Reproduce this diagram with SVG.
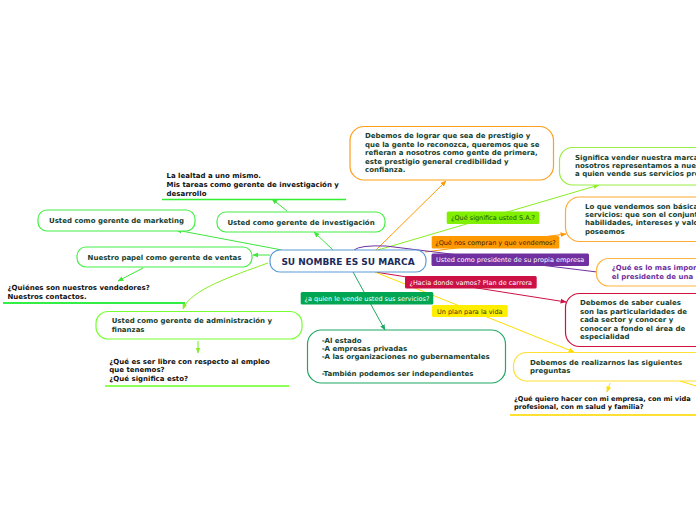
<svg xmlns="http://www.w3.org/2000/svg" width="696" height="520" viewBox="0 0 696 520">
<defs>
<style>
.bx{fill:#fff;stroke-width:1.2}
.t{font-family:"DejaVu Sans",Verdana,sans-serif;font-weight:bold;font-size:7px;fill:#173f30}
.s{font-family:"DejaVu Sans",Verdana,sans-serif;font-weight:bold;font-size:7px;fill:#111}
.lb{font-family:"DejaVu Sans",Verdana,sans-serif;font-size:6.5px}
.c{fill:none;stroke-width:1}
</style>
<marker id="aG" viewBox="0 0 10 10" refX="9" refY="5" markerWidth="6" markerHeight="6" orient="auto"><path d="M0,1L10,5L0,9z" fill="#3ee63e"/></marker>
<marker id="aL" viewBox="0 0 10 10" refX="9" refY="5" markerWidth="6" markerHeight="6" orient="auto"><path d="M0,1L10,5L0,9z" fill="#88ee22"/></marker>
<marker id="aO" viewBox="0 0 10 10" refX="9" refY="5" markerWidth="6" markerHeight="6" orient="auto"><path d="M0,1L10,5L0,9z" fill="#ff9900"/></marker>
<marker id="aR" viewBox="0 0 10 10" refX="9" refY="5" markerWidth="6" markerHeight="6" orient="auto"><path d="M0,1L10,5L0,9z" fill="#cc1144"/></marker>
<marker id="aY" viewBox="0 0 10 10" refX="9" refY="5" markerWidth="6" markerHeight="6" orient="auto"><path d="M0,1L10,5L0,9z" fill="#ffdd00"/></marker>
<marker id="aT" viewBox="0 0 10 10" refX="9" refY="5" markerWidth="6" markerHeight="6" orient="auto"><path d="M0,1L10,5L0,9z" fill="#1fa860"/></marker>
</defs>
<rect width="696" height="520" fill="#fff"/>

<g id="connectors">
<line class="c" x1="282" y1="250" x2="176" y2="230" stroke="#3ee63e" marker-end="url(#aG)"/>
<line class="c" x1="333" y1="250" x2="314" y2="232" stroke="#3ee63e" marker-end="url(#aG)"/>
<line class="c" x1="287" y1="211" x2="272" y2="199" stroke="#3ee63e" marker-end="url(#aG)"/>
<line class="c" x1="270" y1="255" x2="253" y2="255" stroke="#3ee63e" marker-end="url(#aG)"/>
<line class="c" x1="143" y1="268" x2="118" y2="281" stroke="#3ee63e" marker-end="url(#aG)"/>
<path class="c" d="M268,263 C232,276 190,290 183,309" stroke="#88ee22" marker-end="url(#aL)"/>
<line class="c" x1="198" y1="341" x2="198" y2="353" stroke="#66ee22" marker-end="url(#aL)"/>
<line class="c" x1="376" y1="250" x2="446" y2="181" stroke="#ff9900" marker-end="url(#aO)"/>
<line class="c" x1="378" y1="250" x2="599" y2="185" stroke="#88ee22" marker-end="url(#aL)"/>
<line class="c" x1="425" y1="252" x2="566" y2="234" stroke="#ff9900" marker-end="url(#aO)"/>
<path class="c" d="M354,250 Q360,245 386,246 L597,272" stroke="#7030a0"/>
<line class="c" x1="375" y1="272" x2="566" y2="302" stroke="#cc1144" marker-end="url(#aR)"/>
<line class="c" x1="375" y1="272" x2="574" y2="352" stroke="#ffdd00" marker-end="url(#aY)"/>
<line class="c" x1="680" y1="381" x2="696" y2="386" stroke="#ffdd00"/>
<line class="c" x1="610" y1="383" x2="607" y2="392" stroke="#ffdd00" marker-end="url(#aY)"/>
<line class="c" x1="353" y1="272" x2="385" y2="330" stroke="#1fa860" marker-end="url(#aT)"/>
</g>

<g id="central">
<rect class="bx" x="270" y="250" width="156" height="22" rx="10" stroke="#5b9bd5"/>
<text x="348" y="264.5" text-anchor="middle" style="font-family:'DejaVu Sans',Verdana,sans-serif;font-weight:bold;font-size:9px;fill:#1d2b5a">SU NOMBRE ES SU MARCA</text>
</g>

<g id="n-marketing">
<rect class="bx" x="38" y="210" width="157" height="21" rx="9" stroke="#44f044"/>
<text class="t" x="116.5" y="223.3" text-anchor="middle">Usted como gerente de marketing</text>
</g>

<g id="n-investigacion">
<rect class="bx" x="217" y="212" width="168" height="20" rx="9" stroke="#44f044"/>
<text class="t" x="301" y="224.8" text-anchor="middle">Usted como gerente de investigación</text>
</g>

<g id="n-lealtad">
<text class="s" x="166.5" y="178">La lealtad a uno mismo.</text>
<text class="s" x="166.5" y="187">Mis tareas como gerente de investigación y</text>
<text class="s" x="166.5" y="195.5">desarrollo</text>
<line x1="162" y1="199.5" x2="346" y2="199.5" stroke="#33ee33" stroke-width="1.5"/>
</g>

<g id="n-ventas">
<rect class="bx" x="77" y="247" width="175" height="20" rx="9" stroke="#44f044"/>
<text class="t" x="164.5" y="259.8" text-anchor="middle">Nuestro papel como gerente de ventas</text>
</g>

<g id="n-quienes">
<text class="s" x="7.5" y="290">¿Quiénes son nuestros vendedores?</text>
<text class="s" x="7.5" y="298.5">Nuestros contactos.</text>
<line x1="3" y1="303" x2="185" y2="303" stroke="#33ee44" stroke-width="1.8"/>
</g>

<g id="n-admin">
<rect class="bx" x="96" y="311.5" width="206" height="27.5" rx="12" stroke="#77ff33"/>
<text class="t" x="111.7" y="323.3">Usted como gerente de administración y</text>
<text class="t" x="111.7" y="331.7">finanzas</text>
</g>

<g id="n-libre">
<text class="s" x="109.3" y="363.5">¿Qué es ser libre con respecto al empleo</text>
<text class="s" x="109.3" y="372">que tenemos?</text>
<text class="s" x="109.3" y="380.5">¿Qué significa esto?</text>
<line x1="105" y1="386" x2="289" y2="386" stroke="#66ff22" stroke-width="1.5"/>
</g>

<g id="n-prestigio">
<rect class="bx" x="350" y="126.5" width="203.5" height="53.5" rx="14" stroke="#ff9f1a"/>
<text class="t" x="365" y="138">Debemos de lograr que sea de prestigio y</text>
<text class="t" x="365" y="146.6">que la gente lo reconozca, queremos que se</text>
<text class="t" x="365" y="155.2">refieran a nosotros como gente de primera,</text>
<text class="t" x="365" y="163.8">este prestigio general credibilidad y</text>
<text class="t" x="365" y="172.4">confianza.</text>
</g>

<g id="n-significa">
<rect class="bx" x="559.5" y="147.5" width="160" height="37.5" rx="13" stroke="#99ee44"/>
<text class="t" x="575" y="160">Significa vender nuestra marca</text>
<text class="t" x="575" y="168">nosotros representamos a nues</text>
<text class="t" x="575" y="176">a quien vende sus servicios pro</text>
</g>

<g id="n-vendemos">
<rect class="bx" x="565.5" y="197" width="160" height="44.5" rx="14" stroke="#ffaa33"/>
<text class="t" x="585" y="208.6">Lo que vendemos son básica</text>
<text class="t" x="585" y="217">servicios: que son el conjunt</text>
<text class="t" x="585" y="225.4">habilidades, intereses y valo</text>
<text class="t" x="585" y="233.8">poseemos</text>
</g>

<g id="n-importante">
<rect class="bx" x="596.5" y="258.5" width="130" height="27.5" rx="12" stroke="#ffb640"/>
<text class="t" x="611.7" y="270.2" style="fill:#7030a0">¿Qué es lo mas impor</text>
<text class="t" x="611.7" y="278.6" style="fill:#7030a0">el presidente de una</text>
</g>

<g id="n-particularidades">
<rect class="bx" x="565.5" y="293.5" width="160" height="53" rx="14" stroke="#d0103a"/>
<text class="t" x="580" y="305">Debemos de saber cuales</text>
<text class="t" x="580" y="313.6">son las particularidades de</text>
<text class="t" x="580" y="322.2">cada sector y conocer y</text>
<text class="t" x="580" y="330.8">conocer a fondo el área de</text>
<text class="t" x="580" y="339.4">especialidad</text>
</g>

<g id="n-realizarnos">
<rect class="bx" x="513.5" y="352.5" width="200" height="28.5" rx="13" stroke="#ffe033"/>
<text class="t" x="530" y="365">Debemos de realizarnos las siguientes</text>
<text class="t" x="530" y="373.4">preguntas</text>
</g>

<g id="n-quiero">
<text class="s" x="514" y="401" style="font-size:6.6px">¿Qué quiero hacer con mi empresa, con mi vida</text>
<text class="s" x="514" y="409.4" style="font-size:6.6px">profesional, con m salud y familia?</text>
<line x1="510" y1="415" x2="696" y2="415" stroke="#ffe033" stroke-width="1.8"/>
</g>

<g id="n-quien">
<rect class="bx" x="307.5" y="330" width="198" height="53" rx="14" stroke="#1fa860"/>
<text class="t" x="321.7" y="342.6">-Al estado</text>
<text class="t" x="321.7" y="350.9">-A empresas privadas</text>
<text class="t" x="321.7" y="359.2">-A las organizaciones no gubernamentales</text>
<text class="t" x="321.7" y="375.8">-También podemos ser independientes</text>
</g>

<g id="labels">
<rect x="446.7" y="211.5" width="92.6" height="12.5" rx="1.5" fill="#80f000"/>
<text class="lb" x="493" y="220.2" text-anchor="middle" fill="#234a10">¿Qué significa usted S.A.?</text>
<rect x="431.7" y="236" width="127.6" height="12.5" rx="1.5" fill="#ff9900"/>
<text class="lb" x="495.5" y="244.7" text-anchor="middle" fill="#3a2400">¿Qué nos compran y que vendemos?</text>
<rect x="431.5" y="253.5" width="157.5" height="12.5" rx="1.5" fill="#7030a0"/>
<text class="lb" x="510.2" y="262.2" text-anchor="middle" fill="#fff">Usted como presidente de su propia empresa</text>
<rect x="405" y="276" width="131.7" height="12.5" rx="1.5" fill="#cc1144"/>
<text class="lb" x="470.8" y="284.7" text-anchor="middle" fill="#fff">¿Hacia donde vamos? Plan de carrera</text>
<rect x="432" y="305" width="75.7" height="12" rx="1.5" fill="#ffee00"/>
<text class="lb" x="469.8" y="313.5" text-anchor="middle" fill="#3a3300">Un plan para la vida</text>
<rect x="300.7" y="292" width="132.6" height="12.5" rx="1.5" fill="#00a651"/>
<text class="lb" x="367" y="300.7" text-anchor="middle" fill="#fff">¿a quien le vende usted sus servicios?</text>
</g>
</svg>
